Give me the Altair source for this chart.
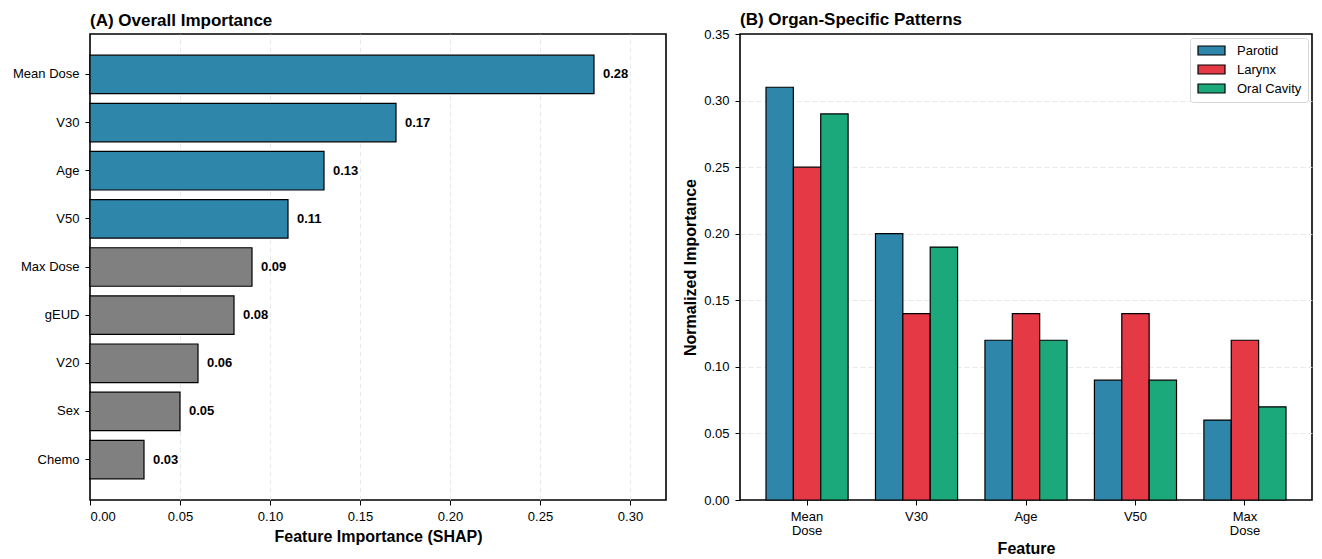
import altair as alt
import pandas as pd

# Panel A data
features = ["Mean Dose", "V30", "Age", "V50", "Max Dose", "gEUD", "V20", "Sex", "Chemo"]
importance = [0.28, 0.17, 0.13, 0.11, 0.09, 0.08, 0.06, 0.05, 0.03]
highlight = ["Top", "Top", "Top", "Top", "Other", "Other", "Other", "Other", "Other"]

# Panel B data
organ_features = ["Mean Dose", "V30", "Age", "V50", "Max Dose"]
organs = ["Parotid", "Larynx", "Oral Cavity"]
parotid = [0.31, 0.20, 0.12, 0.09, 0.06]
larynx = [0.25, 0.14, 0.14, 0.14, 0.12]
oral_cavity = [0.29, 0.19, 0.12, 0.09, 0.07]

x_ticks = [0.0, 0.05, 0.10, 0.15, 0.20, 0.25, 0.30]
y_ticks = [0.0, 0.05, 0.10, 0.15, 0.20, 0.25, 0.30, 0.35]

FONT = "Liberation Sans"
BLUE, RED, GREEN, GRAY = "#2E86AB", "#E63946", "#1BA87A", "#808080"

df_a = pd.DataFrame({"feature": features, "importance": importance, "group": highlight})
rows = []
for org, vals in zip(organs, [parotid, larynx, oral_cavity]):
    for f, v in zip(organ_features, vals):
        rows.append({"feature": f, "organ": org, "value": v})
df_b = pd.DataFrame(rows)

# ---------- Panel A ----------
ya = alt.Y("feature:N", sort=features,
           scale=alt.Scale(paddingInner=0.2, paddingOuter=0.44),
           axis=alt.Axis(title=None, minExtent=81, maxExtent=81, grid=False,
                         labelPadding=6))
xa = alt.X("importance:Q", scale=alt.Scale(domain=[0, 0.32], nice=False, zero=True),
           axis=alt.Axis(title="Feature Importance (SHAP)", values=x_ticks, format=".2f",
                         grid=True, titlePadding=5, labelPadding=5,
                         gridOpacity={"condition": {"test": "datum.value <= 0", "value": 0},
                                      "value": 1}))

bars_a = alt.Chart(df_a).mark_bar(stroke="black", strokeWidth=1.2).encode(
    y=ya, x=xa,
    color=alt.Color("group:N", scale=alt.Scale(domain=["Top", "Other"], range=[BLUE, GRAY]),
                    legend=None),
)
text_a = alt.Chart(df_a).mark_text(align="left", baseline="middle", dx=9, fontWeight="bold",
                                   fontSize=13, font=FONT, color="black").encode(
    y=alt.Y("feature:N", sort=features),
    x=alt.X("importance:Q"),
    text=alt.Text("importance:Q", format=".2f"),
)
panel_a = alt.layer(bars_a, text_a).properties(
    width=576, height=466,
    title=alt.TitleParams("(A) Overall Importance", anchor="start", frame="group",
                          fontSize=17, fontWeight="bold", font=FONT, offset=4, color="black"),
)

# ---------- Panel B ----------
bars_b = alt.Chart(df_b).mark_bar(stroke="black", strokeWidth=1.2).encode(
    x=alt.X("feature:N", sort=organ_features,
            scale=alt.Scale(paddingInner=0.25, paddingOuter=0.2375),
            axis=alt.Axis(title="Feature", labelAngle=0, labelExpr="split(datum.label, ' ')",
                          grid=False, labelLineHeight=14, titlePadding=3, labelPadding=5)),
    xOffset=alt.XOffset("organ:N", sort=organs, scale=alt.Scale(paddingInner=0, paddingOuter=0)),
    y=alt.Y("value:Q", scale=alt.Scale(domain=[0, 0.35], nice=False),
            axis=alt.Axis(title="Normalized Importance", values=y_ticks, format=".2f",
                          grid=True, minExtent=36, maxExtent=36, titlePadding=6, labelPadding=6,
                          gridOpacity={"condition": {"test": "datum.value <= 0 || datum.value >= 0.349",
                                                     "value": 0}, "value": 1})),
    color=alt.Color("organ:N", sort=organs,
                    scale=alt.Scale(domain=organs, range=[BLUE, RED, GREEN]),
                    legend=alt.Legend(title=None, orient="top-right", offset=4,
                                      fillColor="white", strokeColor="#d6d6d6", cornerRadius=3,
                                      padding=6, labelFontSize=13, labelFont=FONT,
                                      labelColor="black",
                                      symbolType="M-3,-1L3,-1L3,1L-3,1Z", symbolSize=81,
                                      symbolOffset=9, labelOffset=19,
                                      symbolStrokeColor="black", symbolStrokeWidth=1.2,
                                      symbolOpacity=1, rowPadding=4)),
)
panel_b = bars_b.properties(
    width=572, height=466,
    title=alt.TitleParams("(B) Organ-Specific Patterns", anchor="start", frame="group",
                          fontSize=17, fontWeight="bold", font=FONT, offset=-1, color="black"),
)

chart = alt.hconcat(panel_a, panel_b, spacing=14).resolve_scale(
    color="independent"
).properties(
    padding={"left": 0, "top": 2, "right": 1, "bottom": 0}
).configure(font=FONT).configure_view(
    stroke="black", strokeWidth=1.6
).configure_axis(
    domain=False, tickColor="black", tickSize=5, tickWidth=1,
    labelFont=FONT, labelFontSize=13, labelColor="black",
    titleFont=FONT, titleFontSize=16, titleFontWeight="bold", titleColor="black",
    gridColor="#e3e3e3", gridDash=[5, 3], gridWidth=0.8,
)

chart.save("out.html", embed_options={"renderer": "svg", "actions": False})
